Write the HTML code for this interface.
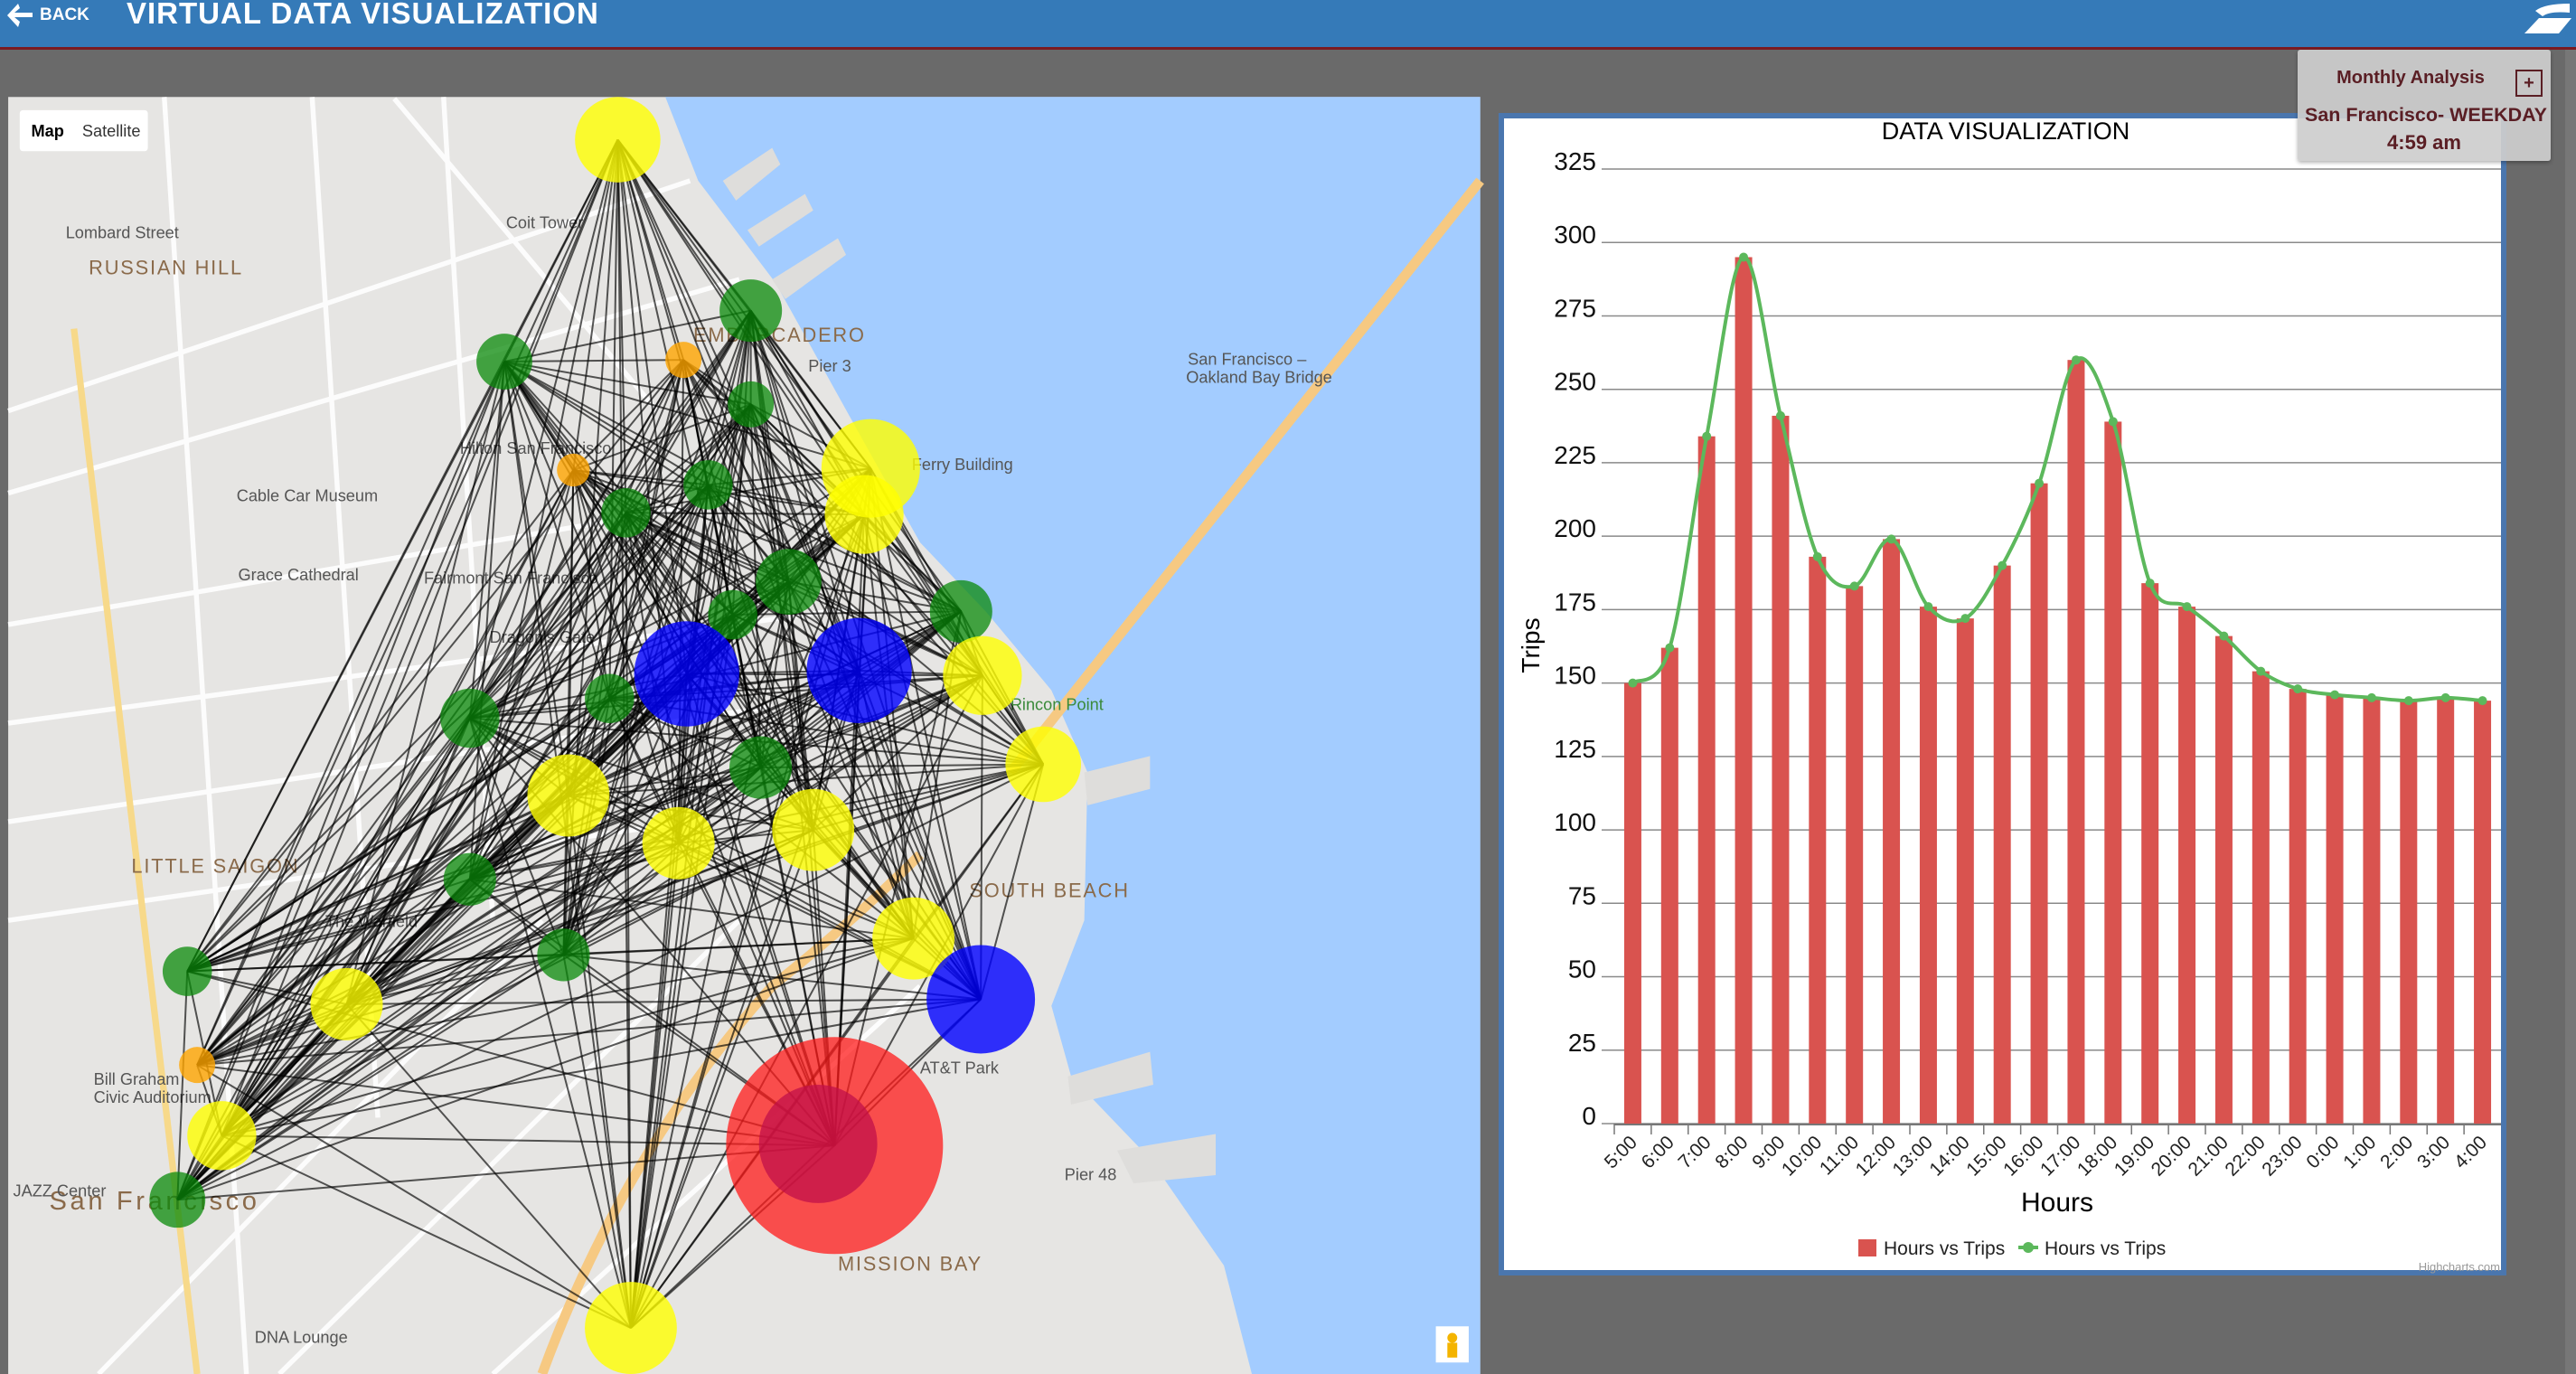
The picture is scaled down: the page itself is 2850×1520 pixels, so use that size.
<!DOCTYPE html>
<html><head><meta charset="utf-8">
<style>
html,body{margin:0;padding:0;}
body{width:2850px;height:1520px;position:relative;overflow:hidden;background:#6a6a6a;font-family:"Liberation Sans",sans-serif;}
.abs{position:absolute;}
#header{left:0;top:0;width:2850px;height:52px;background:#357ab8;border-bottom:3px solid #7a1b22;}
#title{left:140px;top:-4px;color:#fff;font-weight:bold;font-size:33px;letter-spacing:1px;}
#back{left:44px;top:6px;color:#fff;font-weight:bold;font-size:19px;}
#chartbox{left:1658px;top:125px;width:1103px;height:1274px;background:#fff;border:6px solid #4a76ae;}
#overlay{left:2542px;top:55px;width:280px;height:123px;background:rgba(205,205,205,0.93);border-radius:3px;box-shadow:0 2px 4px rgba(0,0,0,0.3);color:#5a1e24;font-weight:bold;}
</style></head><body>
<div id="header" class="abs"></div>
<svg class="abs" style="left:6px;top:2px" width="32" height="30"><path d="M14 2 L2 15 L14 28 L16 22 L10 17 L30 17 L30 12 L10 12 L16 7 Z" fill="#fff"/></svg>
<div id="back" class="abs">BACK</div>
<div id="title" class="abs">VIRTUAL DATA VISUALIZATION</div>
<svg class="abs" style="left:2785px;top:0" width="60" height="40"><path d="M20 12 Q30 4 58 4 L58 14 Q36 12 28 18 Z M8 37 L24 20 L60 20 L46 37 Z" fill="#fff"/></svg>
<div class="abs" style="left:2838px;top:55px;width:12px;height:1465px;background:#777"></div>

<svg id="map" class="abs" style="left:0;top:0" width="2850" height="1520" viewBox="0 0 1568 836" preserveAspectRatio="none">
  <rect x="5" y="59" width="896" height="777" fill="#e6e5e3"/>
  <polygon points="405,59 901,59 901,836 762,836 745,770 700,705 652,655 640,612 660,560 662,470 640,420 600,372 560,330 522,262 472,172 425,110" fill="#a3ccff"/>
  <g fill="#dedddb">
    <polygon points="440,110 470,90 475,100 448,122"/><polygon points="455,140 490,118 495,128 462,150"/><polygon points="470,170 510,145 515,155 478,182"/><polygon points="660,470 700,460 700,480 662,490"/><polygon points="650,655 700,640 702,660 652,672"/><polygon points="680,700 740,690 740,715 690,720"/>
  </g>
  <g stroke="#fff" stroke-width="3" fill="none" opacity="0.9">
    <line x1="5" y1="250" x2="420" y2="110"/><line x1="5" y1="300" x2="450" y2="170"/><line x1="5" y1="380" x2="470" y2="300"/><line x1="5" y1="440" x2="520" y2="370"/><line x1="5" y1="500" x2="470" y2="430"/><line x1="5" y1="560" x2="420" y2="500"/>
    <line x1="100" y1="59" x2="150" y2="836"/><line x1="190" y1="59" x2="230" y2="680"/><line x1="270" y1="59" x2="300" y2="560"/><line x1="60" y1="836" x2="330" y2="560"/><line x1="170" y1="836" x2="450" y2="560"/><line x1="300" y1="836" x2="560" y2="600"/><line x1="240" y1="60" x2="400" y2="250"/>
  </g>
  <line x1="45" y1="200" x2="120" y2="836" stroke="#f7d98a" stroke-width="4"/>
  <path d="M330 836 Q380 700 470 600 Q520 560 560 520" stroke="#f6c982" stroke-width="6" fill="none"/>
  <line x1="615" y1="470" x2="901" y2="110" stroke="#f6c982" stroke-width="6"/>
  <g font-size="10" fill="#555">
    <text x="54" y="167" font-size="12" fill="#8a6a4a" letter-spacing="1">RUSSIAN HILL</text>
    <text x="80" y="531" font-size="12" fill="#8a6a4a" letter-spacing="1">LITTLE SAIGON</text>
    <text x="422" y="208" font-size="12" fill="#8a6a4a" letter-spacing="1">EMBARCADERO</text>
    <text x="590" y="546" font-size="12" fill="#8a6a4a" letter-spacing="1">SOUTH BEACH</text>
    <text x="510" y="773" font-size="12" fill="#8a6a4a" letter-spacing="1">MISSION BAY</text>
    <text x="30" y="736" font-size="16" fill="#8a6a4a" letter-spacing="2">San Francisco</text>
    <text x="308" y="139">Coit Tower</text><text x="40" y="145">Lombard Street</text>
    <text x="144" y="305">Cable Car Museum</text><text x="145" y="353">Grace Cathedral</text>
    <text x="258" y="355">Fairmont San Francisco</text><text x="298" y="391">Dragon's Gate</text>
    <text x="280" y="276">Hilton San Francisco</text><text x="555" y="286">Ferry Building</text>
    <text x="723" y="222">San Francisco –</text><text x="722" y="233">Oakland Bay Bridge</text>
    <text x="560" y="653">AT&amp;T Park</text><text x="57" y="660">Bill Graham</text><text x="57" y="671">Civic Auditorium</text>
    <text x="8" y="728">JAZZ Center</text><text x="155" y="817">DNA Lounge</text><text x="198" y="564">The Warfield</text>
    <text x="615" y="432" fill="#3a8a3a">Rincon Point</text><text x="492" y="226">Pier 3</text><text x="648" y="718">Pier 48</text>
  </g>
  <g id="links" stroke="#000" stroke-width="1.1" stroke-opacity="0.65"></g>
  <g id="nodes"></g>
  <rect x="12" y="67" width="78" height="25" fill="#fff" rx="2"/>
  <text x="19" y="83" font-size="10" font-weight="bold" fill="#000">Map</text>
  <text x="50" y="83" font-size="10" fill="#333">Satellite</text>
  <rect x="874" y="807" width="20" height="22" fill="#fff"/>
  <circle cx="884" cy="814" r="3" fill="#f4b400"/>
  <rect x="881" y="817" width="6" height="9" fill="#f4b400"/>
</svg>

<div id="chartbox" class="abs"></div>
<svg id="chart" class="abs" style="left:0;top:0" width="2850" height="1520">
  <text x="2219" y="154" font-size="27" text-anchor="middle" fill="#000">DATA VISUALIZATION</text>
  <g id="grid"></g><g id="bars"></g><g id="line"></g><g id="xaxis"></g>
  <text x="0" y="0" transform="translate(1703,714) rotate(-90)" font-size="28" text-anchor="middle" fill="#000">Trips</text>
  <text x="2276" y="1340" font-size="30" text-anchor="middle" fill="#000">Hours</text>
  <rect x="2056" y="1371" width="20" height="19" fill="#d9534f"/>
  <text x="2084" y="1388" font-size="21" fill="#222">Hours vs Trips</text>
  <line x1="2233" y1="1380" x2="2255" y2="1380" stroke="#5cb85c" stroke-width="4"/>
  <circle cx="2244" cy="1380" r="6" fill="#5cb85c"/>
  <text x="2262" y="1388" font-size="21" fill="#222">Hours vs Trips</text>
  <text x="2766" y="1406" font-size="13" text-anchor="end" fill="#999">Highcharts.com</text>
</svg>

<div id="overlay" class="abs">
  <div class="abs" style="left:0;width:250px;top:20px;text-align:center;font-size:20px">Monthly Analysis</div>
  <div class="abs" style="left:241px;top:22px;width:26px;height:26px;border:2px solid #5a1e24;text-align:center;line-height:26px;font-size:20px">+</div>
  <div class="abs" style="left:8px;top:60px;font-size:21.5px;white-space:nowrap">San Francisco- WEEKDAY</div>
  <div class="abs" style="left:0;width:280px;top:90px;text-align:center;font-size:22px">4:59 am</div>
</div>

<script>
const categories = ["5:00","6:00","7:00","8:00","9:00","10:00","11:00","12:00","13:00","14:00","15:00","16:00","17:00","18:00","19:00","20:00","21:00","22:00","23:00","0:00","1:00","2:00","3:00","4:00"];
const barValues = [150,162,234,295,241,193,183,199,176,172,190,218,260,239,184,176,166,154,148,146,145,144,145,144];
const lineValues = [150,162,234,295,241,193,183,199,176,172,190,218,260,239,184,176,166,154,148,146,145,144,145,144];
const yTicks = [0,25,50,75,100,125,150,175,200,225,250,275,300,325];

const NS = "http://www.w3.org/2000/svg";
function mk(tag, attrs, parent){const e=document.createElementNS(NS,tag);for(const k in attrs)e.setAttribute(k,attrs[k]);parent.appendChild(e);return e;}
const plotL=1786, plotR=2767, yMin=0, yMax=325, pxBottom=1243, pxTop=187;
const step=(plotR-plotL)/categories.length;
function xPos(i){return plotL+(i+0.5)*step;}
function yPos(v){return pxBottom-(v-yMin)/(yMax-yMin)*(pxBottom-pxTop);}

const grid=document.getElementById('grid');
yTicks.forEach(t=>{
  const l=mk('line',{x1:1772,x2:plotR,y1:yPos(t),y2:yPos(t),stroke:'#8a8a8a','stroke-width':1.5},grid);
  
  
  const tx=mk('text',{x:1766,y:yPos(t)+1,'text-anchor':'end','font-size':28,fill:'#111'},grid);
  tx.textContent=t;
  
  
});
const bars=document.getElementById('bars');
barValues.forEach((v,i)=>{
  const r=mk('rect',{x:xPos(i)-9.5,y:yPos(v),width:19,height:yPos(0)-yPos(v),fill:'#d9534f'},bars);
  
  
});
const xa=document.getElementById('xaxis');
const ax=mk('line',{x1:plotL,x2:plotR,y1:yPos(0)+1,y2:yPos(0)+1,stroke:'#777','stroke-width':2},xa);


categories.forEach((c,i)=>{
  const tk=mk('line',{x1:plotL+i*step,x2:plotL+i*step,y1:yPos(0),y2:yPos(0)+12,stroke:'#777','stroke-width':1.5},xa);
  
  
  const cx=xPos(i)+6, cy=yPos(0)+22;
  const t=mk('text',{x:cx,y:cy,'text-anchor':'end','font-size':21,fill:'#222',transform:`rotate(-45 ${cx} ${cy})`},xa);
  t.textContent=c;
  
  
});
const lg=document.getElementById('line');
const pts=lineValues.map((v,i)=>[xPos(i),yPos(v)]);
let d=`M${pts[0][0]},${pts[0][1]}`;
for(let i=0;i<pts.length-1;i++){
  const p0=pts[Math.max(0,i-1)],p1=pts[i],p2=pts[i+1],p3=pts[Math.min(pts.length-1,i+2)];
  const c1=[p1[0]+(p2[0]-p0[0])/6,p1[1]+(p2[1]-p0[1])/6], c2=[p2[0]-(p3[0]-p1[0])/6,p2[1]-(p3[1]-p1[1])/6];
  d+=` C${c1[0]},${c1[1]} ${c2[0]},${c2[1]} ${p2[0]},${p2[1]}`;
}
const path=mk('path',{d:d,fill:'none',stroke:'#5cb85c','stroke-width':4},lg);


pts.forEach((p,i)=>{
  const c=mk('circle',{cx:p[0],cy:p[1],r:5,fill:'#5cb85c'},lg);
  
  
});

// map network (decorative, map coordinates)
const nodes=[[376,85,26,'y'],[457,189,19,'g'],[307,220,17,'g'],[416,219,11,'o'],[457,246,14,'g'],[530,285,30,'y'],[526,313,24,'y'],[349,286,10,'o'],[431,295,15,'g'],[381,312,15,'g'],[480,354,20,'g'],[585,372,19,'g'],[446,374,15,'g'],[418,410,32,'b'],[523,408,32,'b'],[371,425,15,'g'],[598,411,24,'y'],[286,437,18,'g'],[635,465,23,'y'],[463,467,19,'g'],[346,484,25,'y'],[495,505,25,'y'],[413,513,22,'y'],[286,535,16,'g'],[556,571,25,'y'],[597,608,33,'b'],[343,581,16,'g'],[114,591,15,'g'],[211,611,22,'y'],[120,648,11,'o'],[135,691,21,'y'],[108,730,17,'g'],[508,697,66,'r'],[384,808,28,'y']];
const cols={y:['#ffff00',0.8],g:['#0a8a0a',0.75],o:['#ffa500',0.8],b:['#0000ff',0.8],r:['#ff1a1a',0.75]};
const links=document.getElementById('links');
for(let i=0;i<nodes.length;i++)for(let j=i+1;j<nodes.length;j++){
  if((i*7+j*3)%4===0) continue;
  const l=mk('line',{x1:nodes[i][0],y1:nodes[i][1],x2:nodes[j][0],y2:nodes[j][1]},links);
  
  
}
const ng=document.getElementById('nodes');
nodes.forEach(n=>{
  const c=mk('circle',{cx:n[0],cy:n[1],r:n[2],fill:cols[n[3]][0],'fill-opacity':cols[n[3]][1]},ng);
  
  
});
const inner=mk('circle',{cx:498,cy:696,r:36,fill:'#c0104a','fill-opacity':0.75},ng);


</script>
</body></html>
